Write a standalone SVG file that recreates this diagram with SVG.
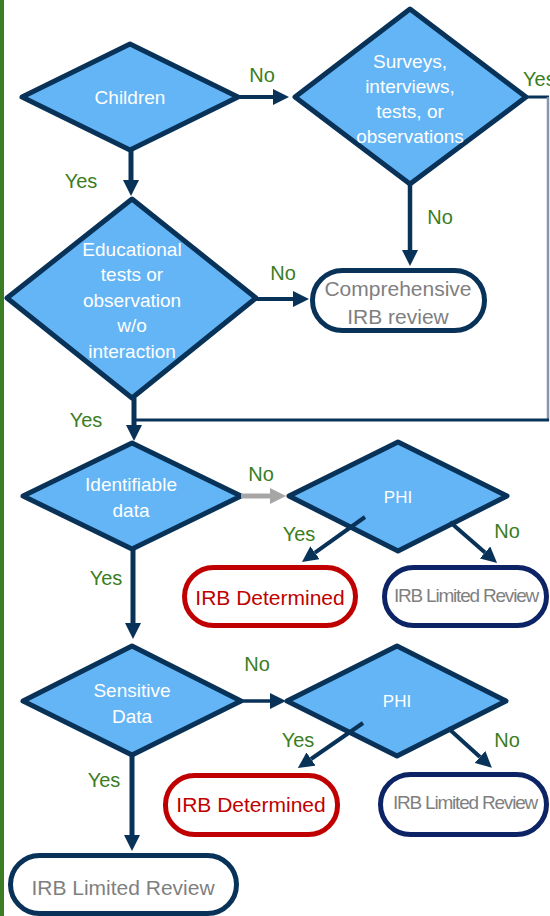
<svg xmlns="http://www.w3.org/2000/svg" width="550" height="916" viewBox="0 0 550 916">
<style>
.dia{fill:#64b5f6;stroke:#083258;stroke-width:5;stroke-linejoin:round}
.dt{fill:#ffffff;font-family:"Liberation Sans",Arial,sans-serif;font-size:19px;text-anchor:middle}
.phi{font-size:17px}
.box{fill:#ffffff;stroke:#083258;stroke-width:5}
.boxr{fill:#ffffff;stroke:#c00000;stroke-width:5}
.boxb{fill:#ffffff;stroke:#0c2366;stroke-width:5}
.bt{fill:#7f7f7f;font-family:"Liberation Sans",Arial,sans-serif;font-size:21px;text-anchor:middle}
.nt{fill:#7f7f7f;font-family:"Liberation Sans",Arial,sans-serif;font-size:19px;letter-spacing:-1.2px;text-anchor:middle}
.rt{fill:#c00000;font-family:"Liberation Sans",Arial,sans-serif;font-size:21px;text-anchor:middle}
.lbl{fill:#3a7d22;font-family:"Liberation Sans",Arial,sans-serif;font-size:20px;text-anchor:middle}
.c{fill:none;stroke:#083258}
.cg{fill:none;stroke:#a6a6a6}
</style>
<defs>
<marker id="ah" viewBox="0 0 10 10" refX="0" refY="5" markerWidth="16" markerHeight="16" markerUnits="userSpaceOnUse" orient="auto">
<path d="M0,0 L10,5 L0,10 z" fill="#083258"/>
</marker>
<marker id="ahg" viewBox="0 0 10 10" refX="0" refY="5" markerWidth="16" markerHeight="16" markerUnits="userSpaceOnUse" orient="auto">
<path d="M0,0 L10,5 L0,10 z" fill="#a6a6a6"/>
</marker>
</defs>
<rect x="0" y="0" width="4" height="916" fill="#3a7d22"/>

<g id="n-children">
<polygon class="dia" points="22,97 130,44 238,97 130,150"/>
<text class="dt" x="130" y="104">Children</text>
</g>
<g id="n-surveys">
<polygon class="dia" points="295,97 410,9 526,97 410,184"/>
<text class="dt" x="410" y="67.5">Surveys,</text>
<text class="dt" x="410" y="92.5">interviews,</text>
<text class="dt" x="410" y="118">tests, or</text>
<text class="dt" x="410" y="143">observations</text>
</g>
<g id="n-educational">
<polygon class="dia" points="7,298 132,199 256,298 132,398"/>
<text class="dt" x="132" y="255.5">Educational</text>
<text class="dt" x="132" y="281">tests or</text>
<text class="dt" x="132" y="306.5">observation</text>
<text class="dt" x="132" y="331.5">w/o</text>
<text class="dt" x="132" y="357.5">interaction</text>
</g>
<g id="n-comprehensive">
<rect class="box" x="312.5" y="270.5" width="172" height="60" rx="30"/>
<text class="bt" x="398" y="295.5">Comprehensive</text>
<text class="bt" x="398" y="324">IRB review</text>
</g>
<g id="n-identifiable">
<polygon class="dia" points="23,496 132,443 241,496 132,549"/>
<text class="dt" x="131" y="490.5">Identifiable</text>
<text class="dt" x="131" y="516.5">data</text>
</g>
<g id="n-phi1">
<polygon class="dia" points="289,496 398,442 507,496 398,551"/>
<text class="dt phi" x="398" y="503">PHI</text>
</g>
<g id="n-determined1">
<rect class="boxr" x="184.5" y="567.5" width="171" height="58" rx="29"/>
<text class="rt" x="270" y="604.5">IRB Determined</text>
</g>
<g id="n-limited1">
<rect class="boxb" x="384.5" y="567.5" width="162" height="58" rx="29"/>
<text class="nt" x="466" y="602">IRB Limited Review</text>
</g>
<g id="n-sensitive">
<polygon class="dia" points="23,701 132,646 241,701 132,755"/>
<text class="dt" x="132" y="696.5">Sensitive</text>
<text class="dt" x="132" y="722.5">Data</text>
</g>
<g id="n-phi2">
<polygon class="dia" points="287,701 397,646 506,701 397,756"/>
<text class="dt phi" x="397" y="707">PHI</text>
</g>
<g id="n-determined2">
<rect class="boxr" x="165.5" y="775.5" width="172" height="59" rx="29"/>
<text class="rt" x="251" y="811.5">IRB Determined</text>
</g>
<g id="n-limited2">
<rect class="boxb" x="380.5" y="774.5" width="166" height="60" rx="30"/>
<text class="nt" x="465" y="809">IRB Limited Review</text>
</g>
<g id="n-limited3">
<rect class="box" x="10.5" y="855.5" width="226" height="58" rx="29"/>
<text class="bt" x="123" y="894.5" font-size="20.5">IRB Limited Review</text>
</g>

<g id="connectors">
<line class="c" x1="238" y1="97" x2="273" y2="97" stroke-width="4" marker-end="url(#ah)"/>
<line class="c" x1="131" y1="150" x2="131" y2="180" stroke-width="5" marker-end="url(#ah)"/>
<line class="c" x1="410" y1="184" x2="410" y2="250" stroke-width="4.5" marker-end="url(#ah)"/>
<line class="c" x1="526" y1="97" x2="549" y2="97" stroke-width="3"/>
<line x1="548" y1="97" x2="548" y2="421" stroke="#8496b0" stroke-width="2.5"/>
<line class="c" x1="549" y1="420" x2="133" y2="420" stroke-width="3"/>
<line class="c" x1="256" y1="299" x2="293" y2="299" stroke-width="4" marker-end="url(#ah)"/>
<line class="c" x1="134" y1="398" x2="134" y2="425" stroke-width="5" marker-end="url(#ah)"/>
<line class="cg" x1="241" y1="496" x2="270" y2="496" stroke-width="5" marker-end="url(#ahg)"/>
<line class="c" x1="365" y1="517" x2="315" y2="552.7" stroke-width="4" marker-end="url(#ah)"/>
<line class="c" x1="450" y1="522" x2="485" y2="552.5" stroke-width="4" marker-end="url(#ah)"/>
<line class="c" x1="133" y1="549" x2="133" y2="623" stroke-width="5" marker-end="url(#ah)"/>
<line class="c" x1="241" y1="701" x2="270" y2="701" stroke-width="3.5" marker-end="url(#ah)"/>
<line class="c" x1="363" y1="723" x2="311" y2="759" stroke-width="4" marker-end="url(#ah)"/>
<line class="c" x1="448" y1="728" x2="480" y2="757" stroke-width="4" marker-end="url(#ah)"/>
<line class="c" x1="132" y1="755" x2="132" y2="835" stroke-width="5" marker-end="url(#ah)"/>
</g>

<g id="labels">
<text class="lbl" x="262" y="82">No</text>
<text class="lbl" x="81" y="188">Yes</text>
<text class="lbl" x="523" y="86" style="text-anchor:start">Yes</text>
<text class="lbl" x="440" y="224">No</text>
<text class="lbl" x="283" y="280">No</text>
<text class="lbl" x="86" y="427">Yes</text>
<text class="lbl" x="261" y="481">No</text>
<text class="lbl" x="299" y="541">Yes</text>
<text class="lbl" x="507" y="538">No</text>
<text class="lbl" x="106" y="585">Yes</text>
<text class="lbl" x="257" y="671">No</text>
<text class="lbl" x="298" y="747">Yes</text>
<text class="lbl" x="507" y="747">No</text>
<text class="lbl" x="104" y="787">Yes</text>
</g>
</svg>
